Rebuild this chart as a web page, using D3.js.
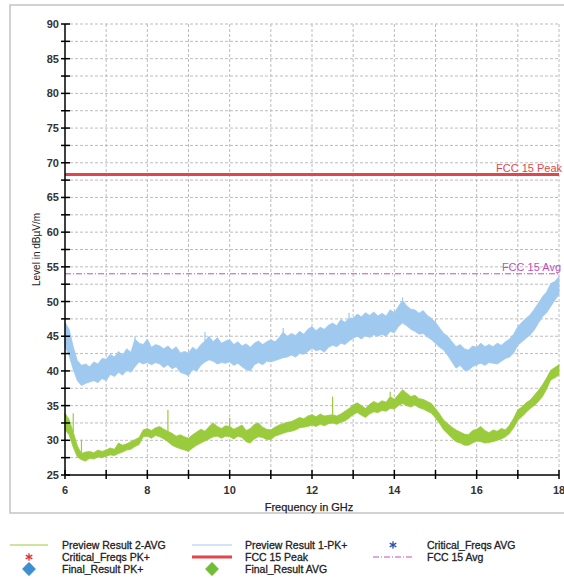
<!DOCTYPE html>
<html>
<head>
<meta charset="utf-8">
<script src="https://cdn.jsdelivr.net/npm/d3@7"></script>
<style>
  body { margin: 0; background: #fff; }
  text { font-family: "Liberation Sans", Arial, sans-serif; }
</style>
</head>
<body>
<div id="chart"></div>
<script>
// frequency grid, GHz (0.1 steps)
var freqs = d3.range(0, 121).map(function(i) { return +(6 + i / 10).toFixed(1); });

// Preview Result 1-PK+ : upper / lower envelope of the noisy trace
var pkHi = [47.0,46.0,43.5,41.5,40.8,41.0,40.6,41.3,41.0,41.8,
            41.7,42.4,42.0,42.8,42.3,43.2,42.7,44.6,44.0,43.8,
            44.6,43.4,43.8,43.6,43.2,43.6,43.0,43.5,42.6,42.8,
            42.6,43.4,43.0,43.8,44.3,45.0,44.2,44.8,44.0,44.3,
            44.5,43.8,44.2,43.6,43.9,43.4,44.0,44.3,43.8,44.2,
            44.5,44.2,44.8,45.6,45.0,45.4,45.1,45.7,45.3,46.0,
            46.4,45.8,46.3,46.0,46.6,46.9,46.5,47.4,47.0,47.6,
            47.6,48.2,47.8,48.4,48.0,48.5,47.9,48.3,47.9,48.8,
            48.4,49.3,50.2,49.4,48.9,48.8,48.3,48.7,48.0,47.6,
            47.0,46.2,45.4,45.0,44.2,43.5,43.8,43.2,43.0,43.6,
            43.4,44.0,43.5,43.8,43.5,44.0,43.7,44.2,44.6,45.3,
            46.4,47.0,47.6,48.1,48.9,49.8,50.7,51.4,52.6,52.9,53.6];
var pkLo = [43.5,42.2,40.2,38.6,37.9,38.2,38.4,38.6,38.3,38.9,
            38.6,39.5,39.2,39.8,39.4,40.1,39.8,40.6,41.3,41.0,
            41.2,40.9,41.2,41.0,40.5,40.9,40.3,40.6,39.8,39.6,
            39.3,40.2,40.0,40.8,41.3,41.6,41.4,41.0,41.2,41.1,
            41.3,40.8,41.1,40.6,40.2,40.0,40.9,41.2,40.9,41.4,
            41.3,41.5,41.7,41.9,42.0,42.3,42.0,42.5,42.4,42.8,
            43.3,42.9,43.1,42.7,43.4,43.7,43.5,44.0,43.8,44.3,
            44.7,45.0,44.6,45.1,44.8,45.2,45.0,45.3,45.0,45.7,
            45.5,46.4,46.9,46.5,46.0,45.7,45.3,45.4,44.9,44.5,
            44.0,43.4,43.0,42.2,41.3,40.4,40.8,40.1,40.1,40.6,
            40.9,41.1,40.8,41.2,41.1,41.0,41.4,41.8,42.0,42.6,
            43.7,44.2,44.7,45.2,45.9,46.9,47.8,48.4,49.3,50.2,51.0];

// Preview Result 2-AVG : upper / lower envelope
var avHi = [33.9,33.0,31.2,29.2,28.1,28.3,28.4,28.2,28.6,28.4,
            28.6,28.9,28.7,29.6,29.3,29.5,29.8,30.1,30.4,31.5,
            31.7,31.4,31.8,32.0,31.6,31.3,31.0,30.6,30.8,30.5,
            30.3,30.8,31.2,31.6,31.3,32.0,32.5,32.0,31.7,32.1,
            32.0,31.6,31.9,32.2,31.4,31.7,32.3,32.5,31.9,31.6,
            31.5,31.9,32.2,32.4,32.6,32.7,33.0,33.3,33.1,33.5,
            33.7,33.4,33.8,33.5,33.6,33.7,33.5,33.8,34.2,34.6,
            35.1,35.4,35.0,34.6,35.2,35.6,35.3,35.7,35.5,36.3,
            35.9,36.6,37.3,36.8,36.3,36.5,36.0,35.9,35.6,35.3,
            34.6,33.8,32.9,32.4,31.9,31.5,31.2,30.9,30.8,31.4,
            31.6,32.0,31.4,31.1,31.5,31.3,31.7,31.5,32.2,33.2,
            34.4,34.8,35.4,35.8,36.5,37.2,38.0,39.0,40.1,40.5,40.9];
var avLo = [31.5,30.8,29.0,27.6,27.2,27.0,27.4,27.3,27.6,27.5,
            27.7,27.9,27.8,28.1,28.3,28.6,28.7,29.1,29.4,30.5,
            30.6,30.3,30.7,30.5,30.2,29.8,29.3,29.0,28.8,28.6,
            28.4,28.9,29.3,29.6,29.9,30.2,30.5,30.6,30.3,30.6,
            30.5,30.2,30.6,30.4,29.8,29.6,30.2,30.5,30.4,30.1,
            30.1,30.6,30.8,31.0,31.2,31.3,31.5,31.8,31.9,32.0,
            32.2,32.0,32.3,32.1,32.4,32.5,32.3,32.6,32.8,33.2,
            33.7,34.0,33.6,33.3,33.8,34.1,34.0,34.3,34.2,34.6,
            34.5,35.0,35.3,35.0,34.8,35.1,34.7,34.5,34.2,33.9,
            33.2,32.4,31.5,30.9,30.3,29.8,29.6,29.3,29.3,29.6,
            29.9,29.8,29.6,29.7,29.8,30.0,30.2,30.5,31.0,31.8,
            32.9,33.4,34.0,34.6,35.0,35.6,36.3,37.4,38.7,39.0,39.4];

// isolated spikes on the traces
var avSpikeF = [6.2, 6.4, 8.5, 10.0, 12.5, 13.9];
var avSpikeV = [33.9, 30.1, 34.4, 33.2, 36.3, 37.0];
var pkSpikeF = [7.7, 9.4, 11.3, 12.9, 14.2];
var pkSpikeV = [45.0, 45.6, 46.2, 48.4, 50.6];

// limit lines
var limitNames = ['FCC 15 Peak', 'FCC 15 Avg'];
var limitValues = [68.3, 54];

var yTicks = [25, 30, 35, 40, 45, 50, 55, 60, 65, 70, 75, 80, 85, 90];
var xTicks = [6, 8, 10, 12, 14, 16, 18];

var W = 564, H = 581;
var margin = {top: 24, left: 65, right: 5};
var plotW = 494, plotH = 451;

var svg = d3.select('#chart').append('svg')
    .attr('width', W).attr('height', H);

// outer frame
svg.append('rect')
    .attr('x', 10).attr('y', 5)
    .attr('width', 600).attr('height', 508)
    .attr('fill', 'none').attr('stroke', '#c4c4c4').attr('stroke-width', 1.5);

var g = svg.append('g')
    .attr('transform', 'translate(' + margin.left + ',' + margin.top + ')');

var x = d3.scaleLinear().domain([6, 18]).range([0, plotW]);
var y = d3.scaleLinear().domain([25, 90]).range([plotH, 0]);

// grid
g.append('g').selectAll('line')
  .data(d3.range(7, 19))
  .enter().append('line')
    .attr('x1', function(d) { return x(d); }).attr('x2', function(d) { return x(d); })
    .attr('y1', 0).attr('y2', plotH)
    .attr('stroke', '#bdbdbd').attr('stroke-width', 1).attr('stroke-dasharray', '3,2');
g.append('g').selectAll('line')
  .data(d3.range(27.5, 90.1, 2.5))
  .enter().append('line')
    .attr('x1', 0).attr('x2', plotW)
    .attr('y1', function(d) { return y(d); }).attr('y2', function(d) { return y(d); })
    .attr('stroke', '#bdbdbd').attr('stroke-width', 1).attr('stroke-dasharray', '3,2');

// traces
var pkData = freqs.map(function(f, i) { return {f: f, hi: pkHi[i], lo: pkLo[i]}; });
var avData = freqs.map(function(f, i) { return {f: f, hi: avHi[i], lo: avLo[i]}; });

var band = d3.area()
    .x(function(d) { return x(d.f); })
    .y0(function(d) { return y(d.lo); })
    .y1(function(d) { return y(d.hi); });

g.append('path').datum(pkData)
    .attr('d', band)
    .attr('fill', '#9fc9ef').attr('stroke', '#9fc9ef').attr('stroke-width', 0.8);
g.append('path').datum(avData)
    .attr('d', band)
    .attr('fill', '#9acb3c').attr('stroke', '#9acb3c').attr('stroke-width', 0.8);

function topAt(arr, f) {
  var i = Math.round((f - 6) * 10);
  return arr[i];
}
g.append('g').selectAll('line')
  .data(avSpikeF)
  .enter().append('line')
    .attr('x1', function(d) { return x(d); }).attr('x2', function(d) { return x(d); })
    .attr('y1', function(d) { return y(topAt(avHi, d)); })
    .attr('y2', function(d, i) { return y(avSpikeV[i]); })
    .attr('stroke', '#9acb3c').attr('stroke-width', 1.2);
g.append('g').selectAll('line')
  .data(pkSpikeF)
  .enter().append('line')
    .attr('x1', function(d) { return x(d); }).attr('x2', function(d) { return x(d); })
    .attr('y1', function(d) { return y(topAt(pkHi, d)); })
    .attr('y2', function(d, i) { return y(pkSpikeV[i]); })
    .attr('stroke', '#9fc9ef').attr('stroke-width', 1.2);

// limit lines
g.append('line')
    .attr('x1', 0).attr('x2', plotW)
    .attr('y1', y(limitValues[0])).attr('y2', y(limitValues[0]))
    .attr('stroke', '#e0474c').attr('stroke-width', 3);
g.append('line')
    .attr('x1', 0).attr('x2', plotW)
    .attr('y1', y(limitValues[1])).attr('y2', y(limitValues[1]))
    .attr('stroke', '#c050b8').attr('stroke-width', 1).attr('stroke-dasharray', '6,2,1,2');
g.append('text')
    .attr('x', plotW + 3).attr('y', y(limitValues[0]) - 3)
    .attr('text-anchor', 'end')
    .style('font-size', '11px').attr('fill', '#e0474c')
    .text(limitNames[0]);
g.append('text')
    .attr('x', plotW + 2).attr('y', y(limitValues[1]) - 3)
    .attr('text-anchor', 'end')
    .style('font-size', '11px').attr('fill', '#c050b8')
    .text(limitNames[1]);

// axes
var yAxis = g.append('g');
yAxis.append('line').attr('x1', 0).attr('x2', 0).attr('y1', 0).attr('y2', plotH)
    .attr('stroke', '#000').attr('stroke-width', 1.5);
yAxis.selectAll('line.tk')
  .data(d3.range(25, 90.1, 2.5))
  .enter().append('line').attr('class', 'tk')
    .attr('x1', -4).attr('x2', 5)
    .attr('y1', function(d) { return y(d); }).attr('y2', function(d) { return y(d); })
    .attr('stroke', '#000').attr('stroke-width', 1.5);
yAxis.selectAll('text')
  .data(yTicks)
  .enter().append('text')
    .attr('x', -6).attr('y', function(d) { return y(d) + 4; })
    .attr('text-anchor', 'end')
    .style('font-size', '11px').style('font-weight', 'bold').attr('fill', '#333')
    .text(function(d) { return d; });

var xAxis = g.append('g').attr('transform', 'translate(0,' + plotH + ')');
xAxis.append('line').attr('x1', 0).attr('x2', plotW).attr('y1', 0).attr('y2', 0)
    .attr('stroke', '#000').attr('stroke-width', 1.5);
xAxis.selectAll('line.tk')
  .data(d3.range(6, 18.1, 1))
  .enter().append('line').attr('class', 'tk')
    .attr('x1', function(d) { return x(d); }).attr('x2', function(d) { return x(d); })
    .attr('y1', -5).attr('y2', 4)
    .attr('stroke', '#000').attr('stroke-width', 1.5);
xAxis.selectAll('text')
  .data(xTicks)
  .enter().append('text')
    .attr('x', function(d) { return x(d); }).attr('y', 19)
    .attr('text-anchor', 'middle')
    .style('font-size', '11px').style('font-weight', 'bold').attr('fill', '#333')
    .text(function(d) { return d; });

// axis titles
svg.append('text')
    .attr('x', margin.left + plotW / 2 - 3).attr('y', 511)
    .attr('text-anchor', 'middle')
    .style('font-size', '11px').attr('fill', '#222')
    .attr('stroke', '#222').attr('stroke-width', 0.25)
    .text('Frequency in GHz');
svg.append('text')
    .attr('transform', 'translate(40,' + (margin.top + plotH / 2) + ')rotate(-90)')
    .attr('text-anchor', 'middle')
    .style('font-size', '10px').attr('fill', '#222')
    .text('Level in dBµV/m');

// legend
var legend = svg.append('g').style('font-size', '10.5px');
function legText(tx, ty, s) {
  legend.append('text').attr('x', tx).attr('y', ty + 4)
      .attr('fill', '#222').attr('stroke', '#222').attr('stroke-width', 0.3)
      .text(s);
}
function legLine(x1, x2, ly, col, w, dash) {
  legend.append('line').attr('x1', x1).attr('x2', x2).attr('y1', ly).attr('y2', ly)
      .attr('stroke', col).attr('stroke-width', w).attr('stroke-dasharray', dash || null);
}
legLine(10, 48, 545, '#9acb3c', 1);
legText(62, 545, 'Preview Result 2-AVG');
legend.append('path').attr('d', d3.symbol(d3.symbolAsterisk, 40)())
    .attr('transform', 'translate(29,557)')
    .attr('fill', 'none').attr('stroke', '#e03030').attr('stroke-width', 1.3);
legText(62, 557, 'Critical_Freqs PK+');
legend.append('path').attr('d', d3.symbol(d3.symbolSquare, 80)())
    .attr('transform', 'translate(29,569)rotate(45)')
    .attr('fill', '#3d8fd0').attr('stroke', '#3d8fd0').attr('stroke-linejoin', 'round');
legText(62, 569, 'Final_Result PK+');

legLine(192, 232, 545, '#9fc9ef', 1);
legText(245, 545, 'Preview Result 1-PK+');
legLine(192, 232, 557, '#e0474c', 3);
legText(245, 557, 'FCC 15 Peak');
legend.append('path').attr('d', d3.symbol(d3.symbolSquare, 80)())
    .attr('transform', 'translate(212,569)rotate(45)')
    .attr('fill', '#6fbe35').attr('stroke', '#6fbe35').attr('stroke-linejoin', 'round');
legText(245, 569, 'Final_Result AVG');

legend.append('path').attr('d', d3.symbol(d3.symbolAsterisk, 40)())
    .attr('transform', 'translate(393,545)')
    .attr('fill', 'none').attr('stroke', '#3050b0').attr('stroke-width', 1.3);
legText(427, 545, 'Critical_Freqs AVG');
legLine(373, 414, 557, '#c050b8', 1, '6,2,1,2');
legText(427, 557, 'FCC 15 Avg');
</script>
</body>
</html>
